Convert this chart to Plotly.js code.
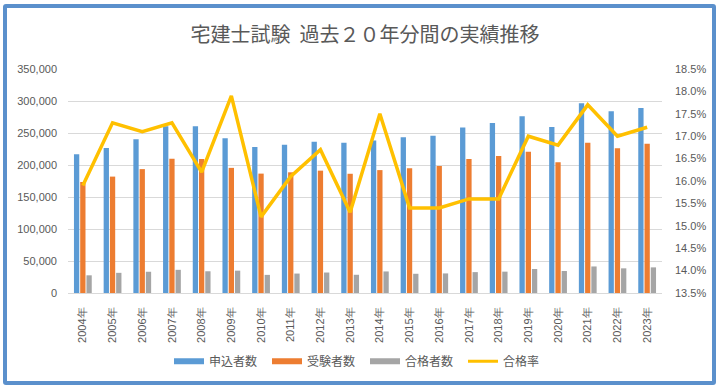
<!DOCTYPE html>
<html>
<head>
<meta charset="utf-8">
<script src="https://cdn.plot.ly/plotly-3.0.1.min.js"></script>
<style>
html,body{margin:0;padding:0;background:#fff;}
#wrap{position:relative;width:720px;height:388px;}
#chart{width:720px;height:388px;}
#frame{position:absolute;left:3px;top:4px;width:705px;height:373px;border:4px solid #5B90CC;border-radius:3px;pointer-events:none;}
</style>
</head>
<body>
<div id="wrap"><div id="chart"></div><div id="frame"></div></div>
<script>
const years = ["2004年","2005年","2006年","2007年","2008年","2009年","2010年","2011年","2012年","2013年","2014年","2015年","2016年","2017年","2018年","2019年","2020年","2021年","2022年","2023年"];
const applicants = [216830,226665,240278,260633,260591,241944,228214,231596,236350,234586,238343,243199,245742,258511,265444,276019,259284,296518,283856,289096];
const examinees  = [173457,181880,193573,209684,209415,195515,186542,188572,191169,186304,192029,194926,198463,209354,213993,220797,204250,234714,226048,233276];
const passers    = [27639,31520,33191,36203,33946,34918,28311,30391,32000,28470,33670,30028,30589,32644,33360,37481,34338,41471,38525,40025];
const passRate   = [15.9,17.3,17.1,17.3,16.2,17.9,15.2,16.1,16.7,15.3,17.5,15.4,15.4,15.6,15.6,17.0,16.8,17.7,17.0,17.2];
const names = ["申込者数","受験者数","合格者数","合格率"];
const colors = ["#5B9BD5","#ED7D31","#A5A5A5","#FFC000"];

const txt = "#595959";
const jp = "'Noto Sans CJK JP', 'Noto Sans', sans-serif";
const num = "'Liberation Sans', Arial, sans-serif";

const traces = [
  {type:"bar", x:years, y:applicants, name:names[0], marker:{color:colors[0]}, showlegend:false},
  {type:"bar", x:years, y:examinees, name:names[1], marker:{color:colors[1]}, showlegend:false},
  {type:"bar", x:years, y:passers, name:names[2], marker:{color:colors[2]}, showlegend:false},
  {type:"scatter", mode:"lines", x:years, y:passRate, name:names[3], yaxis:"y2", line:{color:colors[3], width:3.5}, showlegend:false},
  {type:"scatter", mode:"lines", x:[null], y:[null], name:names[0], line:{color:colors[0], width:6}},
  {type:"scatter", mode:"lines", x:[null], y:[null], name:names[1], line:{color:colors[1], width:6}},
  {type:"scatter", mode:"lines", x:[null], y:[null], name:names[2], line:{color:colors[2], width:6}},
  {type:"scatter", mode:"lines", x:[null], y:[null], name:names[3], line:{color:colors[3], width:3}}
];

const layout = {
  width:720, height:388,
  paper_bgcolor:"#fff", plot_bgcolor:"#fff",
  margin:{l:68, r:58, t:69, b:95},
  barmode:"group", bargap:0.37, bargroupgap:0.15,
  title:{text:"宅建士試験  過去２０年分間の実績推移", x:0.5, xref:"paper", xanchor:"center", y:35, yref:"container", yanchor:"middle",
         font:{family:jp, size:20, color:txt}},
  xaxis:{type:"category", tickangle:-90, tickfont:{family:num, size:11, color:txt},
         showgrid:false, showline:true, linecolor:"#D9D9D9", linewidth:1, ticks:"", ticklabelstandoff:9, fixedrange:true},
  yaxis:{range:[0,350000], dtick:50000, tickformat:",", tickfont:{family:num, size:11, color:txt},
         showgrid:true, gridcolor:"#D9D9D9", gridwidth:1, zeroline:false, showline:false, ticks:"", ticklabelstandoff:10},
  yaxis2:{overlaying:"y", side:"right", range:[13.5,18.5], dtick:0.5, tickformat:".1f", ticksuffix:"%",
          tickfont:{family:num, size:11, color:txt}, showgrid:false, zeroline:false, showline:false, ticks:"", ticklabelstandoff:12},
  legend:{orientation:"h", x:0.5, xanchor:"center", y:-0.305, yanchor:"middle", xref:"paper",
          font:{family:jp, size:12, color:txt}, itemwidth:30, entrywidth:53, entrywidthmode:"pixels", bgcolor:"rgba(0,0,0,0)"},
  showlegend:true
};
layout.title.y = 1 - 35/388;

Plotly.newPlot("chart", traces, layout, {displayModeBar:false, staticPlot:true});
</script>
</body>
</html>
